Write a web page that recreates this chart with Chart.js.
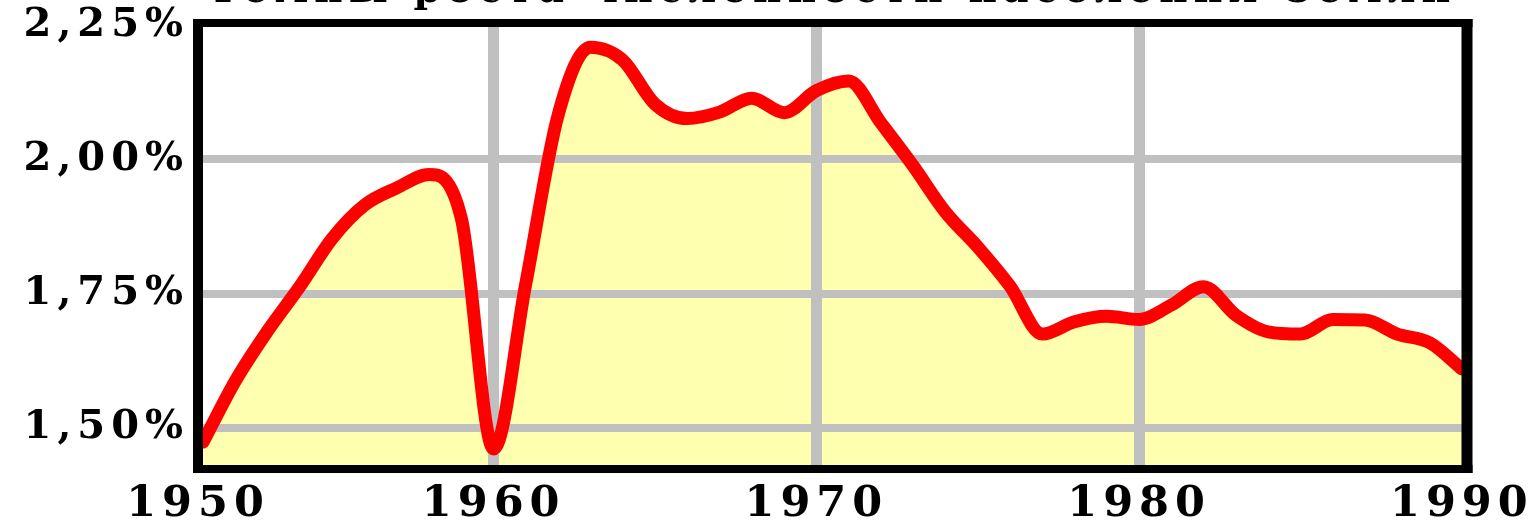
<!DOCTYPE html>
<html>
<head>
<meta charset="utf-8">
<script src="https://cdn.jsdelivr.net/npm/chart.js@4.4.1/dist/chart.umd.min.js"></script>
<style>
html,body{margin:0;padding:0;background:#fff;overflow:hidden;width:1530px;height:523px;}
#wrap{position:absolute;left:0;top:-28px;width:1530px;height:551px;}
</style>
</head>
<body>
<div id="wrap"><canvas id="c" width="1530" height="551"></canvas></div>
<script>
// ---- data ----
const titleText = 'Темпы роста численности населения Земли';
const years = [1951,1952,1953,1954,1955,1956,1957,1958,1959,1960,
               1961,1962,1963,1964,1965,1966,1967,1968,1969,1970,
               1971,1972,1973,1974,1975,1976,1977,1978,1979,1980,
               1981,1982,1983,1984,1985,1986,1987,1988,1989,1990];
const growthRates = [1.474,1.588,1.681,1.764,1.853,1.915,1.947,1.972,1.890,1.461,
                     1.770,2.083,2.209,2.185,2.103,2.076,2.088,2.114,2.087,2.128,
                     2.146,2.068,1.988,1.902,1.837,1.764,1.675,1.698,1.708,1.702,
                     1.729,1.763,1.710,1.679,1.675,1.702,1.701,1.675,1.659,1.610];
const yTickValues = [1.50, 1.75, 2.00, 2.25];
const xTickYears = [1960, 1970, 1980, 1990];
const xGridYears = [1960, 1970, 1980];

const points = years.map((y, i) => ({x: y, y: growthRates[i]}));

const frame = {
  id: 'frame',
  afterDatasetsDraw(chart, args, o) {
    const {ctx, chartArea: a} = chart;
    ctx.save();
    ctx.fillStyle = o.color;
    const x0 = a.left - o.left / 2, x1 = a.right + o.right / 2;
    const y0 = a.top - o.top / 2, y1 = a.bottom + o.bottom / 2;
    ctx.fillRect(x0, y0, x1 - x0, o.top);
    ctx.fillRect(x0, a.bottom - o.bottom / 2, x1 - x0, o.bottom);
    ctx.fillRect(x0, y0, o.left, y1 - y0);
    ctx.fillRect(a.right - o.right / 2, y0, o.right, y1 - y0);
    ctx.restore();
  }
};
const spacing = {
  id: 'spacing',
  beforeDraw(chart, args, o) { chart.ctx.letterSpacing = o.value; }
};

const serif = 'DejaVu Serif, Liberation Serif, serif';

new Chart(document.getElementById('c'), {
  type: 'line',
  data: {
    datasets: [{
      data: points,
      borderColor: '#FF0000',
      borderWidth: 13,
      borderJoinStyle: 'round',
      borderCapStyle: 'round',
      backgroundColor: '#FFFFB0',
      fill: 'start',
      pointRadius: 0,
      cubicInterpolationMode: 'monotone'
    }]
  },
  options: {
    responsive: false,
    animation: false,
    events: [],
    layout: {padding: {left: 0, right: 63, top: 0, bottom: 0}},
    plugins: {
      legend: {display: false},
      tooltip: {enabled: false},
      filler: {drawTime: 'beforeDraw'},
      title: {
        display: true,
        text: titleText,
        fullSize: false,
        color: '#000',
        font: {family: serif, weight: 'bold', size: 39, lineHeight: 1},
        padding: {top: 0, bottom: 12}
      },
      frame: {color: '#000', top: 8, bottom: 8, left: 10, right: 11},
      spacing: {value: '6px'}
    },
    scales: {
      x: {
        type: 'linear',
        min: 1950.84,
        max: 1990.16,
        afterBuildTicks: s => { s.ticks = [s.min, ...xTickYears].map(v => ({value: v})); },
        afterFit: s => { s.height = 54; s.paddingLeft = 0; s.paddingRight = 0; },
        grid: {
          color: c => (c.tick && xGridYears.includes(c.tick.value)) ? '#C0C0C0' : 'rgba(0,0,0,0)',
          lineWidth: 11,
          drawTicks: false
        },
        border: {display: false},
        ticks: {
          padding: 14,
          color: '#000',
          maxRotation: 0,
          autoSkip: false,
          font: {family: serif, weight: 'bold', size: 43, lineHeight: 1},
          callback: v => String(Math.floor(v / 10) * 10)
        }
      },
      y: {
        min: 1.4237,
        max: 2.254,
        afterBuildTicks: s => { s.ticks = yTickValues.map(v => ({value: v})); },
        afterFit: s => { s.width = 198; },
        grid: {
          color: c => (c.tick && c.tick.value < 2.2) ? '#C0C0C0' : 'rgba(0,0,0,0)',
          lineWidth: 8,
          drawTicks: false
        },
        border: {display: false},
        ticks: {
          padding: 9,
          color: '#000',
          font: {family: serif, weight: 'bold', size: 40, lineHeight: 1},
          callback: v => v.toFixed(2).replace('.', ',') + '%'
        }
      }
    }
  },
  plugins: [frame, spacing]
});
</script>
</body>
</html>
